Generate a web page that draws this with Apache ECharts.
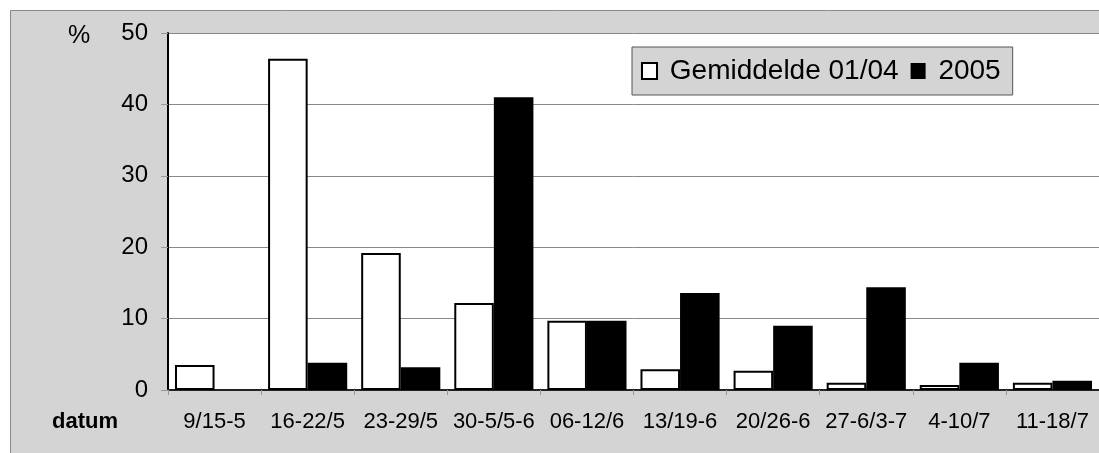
<!DOCTYPE html>
<html>
<head>
<meta charset="utf-8">
<script src="https://cdn.jsdelivr.net/npm/echarts@6/dist/echarts.min.js"></script>
<style>
html, body { margin: 0; padding: 0; background: #fff; }
#echarts { width: 1099px; height: 453px; }
</style>
</head>
<body>
<div id="echarts"></div>
<script>
// periodes (x-as)
var categories = ['9/15-5', '16-22/5', '23-29/5', '30-5/5-6', '06-12/6', '13/19-6', '20/26-6', '27-6/3-7', '4-10/7', '11-18/7'];
// gemiddelde 2001-2004 (%)
var gemiddelde = [3.5, 46.4, 19.2, 12.2, 9.7, 2.9, 2.7, 1.0, 0.7, 1.0];
// 2005 (%)
var jaar2005 = [0, 3.8, 3.2, 41.0, 9.7, 13.6, 9.0, 14.4, 3.8, 1.3];
var seriesNames = ['Gemiddelde 01/04', '2005'];
var yTicks = [0, 10, 20, 30, 40, 50];

window.onload = function(){
    var font = 'Liberation Sans, Arial, sans-serif';
    var option = {
        animation: false,
        backgroundColor: '#fff',
        textStyle: { fontFamily: font },
        graphic: [
            {   // grijze achtergrond
                type: 'rect', z: -10, silent: true,
                shape: { x: 10.5, y: 10.5, width: 1120, height: 460 },
                style: { fill: '#d4d4d4', stroke: '#8a8a8a', lineWidth: 1 }
            },
            {
                type: 'text', left: 68, top: 24,
                style: { text: '%', fontSize: 25, fontFamily: font, fill: '#000' }
            },
            {
                type: 'text', left: 52, top: 411,
                style: { text: 'datum', fontSize: 22, fontWeight: 'bold', fontFamily: font, fill: '#000' }
            }
        ],
        grid: {
            left: 168, top: 33, right: -4, bottom: 63,
            show: true, backgroundColor: '#fff', borderWidth: 0
        },
        legend: {
            left: 632, top: 47,
            padding: [10, 12, 10, 9],
            itemGap: 12,
            itemWidth: 15, itemHeight: 16,
            backgroundColor: '#d4d4d4',
            borderColor: '#555', borderWidth: 1,
            textStyle: { fontSize: 28, fontFamily: font, color: '#000' },
            formatter: function(name){ return ' ' + name; },
            data: [
                { name: seriesNames[0], icon: 'rect', itemStyle: { color: '#fff', borderColor: '#000', borderWidth: 2 } },
                { name: seriesNames[1], icon: 'rect', itemStyle: { color: '#000', borderWidth: 0 } }
            ]
        },
        xAxis: {
            type: 'category',
            data: categories,
            axisLine: { lineStyle: { color: '#222', width: 2 } },
            axisTick: { show: true, length: 5, lineStyle: { color: '#999' } },
            axisLabel: { fontSize: 22, color: '#000', margin: 21, interval: 0, fontFamily: font }
        },
        yAxis: {
            type: 'value',
            min: 0, max: 50, interval: 10,
            axisLine: { show: true, lineStyle: { color: '#000', width: 2 } },
            axisTick: { show: true, length: 7, lineStyle: { color: '#999' } },
            axisLabel: { fontSize: 24, color: '#000', margin: 20, fontFamily: font,
                formatter: function(v){ return yTicks.indexOf(v) >= 0 ? String(v) : ''; } },
            splitLine: { show: true, lineStyle: { color: '#888', width: 1 } }
        },
        series: [
            {
                name: seriesNames[0], type: 'bar',
                data: gemiddelde,
                barGap: '0%', barCategoryGap: '15%',
                itemStyle: { color: '#fff', borderColor: '#000', borderWidth: 2 }
            },
            {
                name: seriesNames[1], type: 'bar',
                data: jaar2005,
                barGap: '0%', barCategoryGap: '15%',
                itemStyle: { color: '#000' }
            }
        ]
    };

    var mychart = echarts.init(document.getElementById('echarts'));
    mychart.setOption(option);
};
</script>
</body>
</html>
